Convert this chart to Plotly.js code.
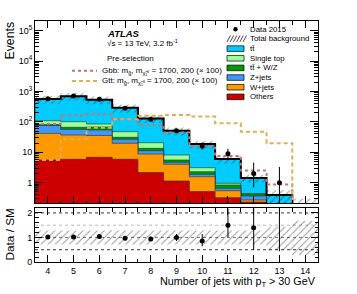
<!DOCTYPE html>
<html><head><meta charset="utf-8">
<script src="https://cdn.plot.ly/plotly-3.0.1.min.js"></script>
<style>html,body{margin:0;padding:0;background:#fff}#c{width:357px;height:294px}</style>
</head><body><div id="c"></div>
<script>
// ---- data ----
const bins = [4, 5, 6, 7, 8, 9, 10, 11, 12, 13, 14];
const ttbar     = [460, 595, 448, 242, 109, 43, 15.5, 5.05, 1.0, 0.28, 0.14];
const singleTop = [27, 35.2, 17, 16.5, 7.2, 2.57, 0.81, 0.115, 0.01, 0.01, 0.005];
const ttV       = [6, 9.4, 14, 4.3, 2.2, 0.89, 0.41, 0.186, 0.06, 0.02, 0.005];
const zjets     = [34, 20, 18.3, 7, 2.5, 0.66, 0.32, 0.108, 0.095, 0.05, 0.01];
const wjets     = [36.4, 31.1, 28.9, 13.9, 6.6, 2.89, 1.06, 0.225, 0.04, 0.01, 0.005];
const others    = [5.6, 5.9, 6.85, 5.9, 2.17, 1.14, 0.51, 0.32, 0.23, 0.02, 0.01];
const data        = [580, 711, 554, 280, 122, 51, 16, 9, 2, 1, null];
const dataErrUp   = [24, 27, 24, 17, 11, 7.2, 5.1, 4.1, 2.6, 2.3, null];
const dataErrDown = [24, 27, 24, 17, 11, 7.1, 4.0, 2.9, 1.3, 0.83, null];
const gbb = [85, 165, 178, 122, 79, 45, 16, 7.5, 2.5, 0.88, 0];
const gtt = [5.6, 26.8, 64, 122, 160, 170, 150, 90, 47, 20, 0];
const bandHi = [1.28, 1.28, 1.28, 1.28, 1.28, 1.28, 1.28, 1.28, 1.28, 1.44, 1.68];
const bandLo = [0.71, 0.71, 0.71, 0.71, 0.71, 0.71, 0.71, 0.71, 0.71, 0.48, 0.28];
const yTickVals = [1, 10, 100, 1000, 10000, 100000];
const yTickText = ['1', '10', '10<sup>2</sup>', '10<sup>3</sup>', '10<sup>4</sup>', '10<sup>5</sup>'];
const xTickVals = [4, 5, 6, 7, 8, 9, 10, 11, 12, 13, 14];

// ---- helpers ----
const FLOOR = 1e-3;
const FONT = 'Liberation Sans, Arial, sans-serif';
function step(vals) {
  const xs = [], ys = [];
  bins.forEach((b, i) => {
    const v = (vals[i] && vals[i] > 0) ? vals[i] : FLOOR;
    xs.push(b - 0.5, b + 0.5); ys.push(v, v);
  });
  return {xs, ys};
}
function cum(arrs) { return bins.map((_, i) => arrs.reduce((s, a) => s + a[i], 0)); }
const layers = [
  {v: others, c: '#cc0000'},
  {v: wjets, c: '#ff9900'},
  {v: zjets, c: '#3d99ff'},
  {v: ttV, c: '#009900'},
  {v: singleTop, c: '#99ff99'},
  {v: ttbar, c: '#00ccff'}
];
const total = cum(layers.map(l => l.v));
const traces = [];
// stacked fills, top layer first
for (let k = layers.length - 1; k >= 0; k--) {
  const c = cum(layers.slice(0, k + 1).map(l => l.v));
  const s = step(c);
  const lo = bins[0] - 0.5, hi = bins[bins.length - 1] + 0.5;
  traces.push({x: [lo, ...s.xs, hi], y: [FLOOR, ...s.ys, FLOOR], type: 'scatter', mode: 'lines',
    fill: 'toself', fillcolor: layers[k].c, line: {color: 'rgba(40,40,40,0.85)', width: 0.7},
    xaxis: 'x', yaxis: 'y', hoverinfo: 'skip'});
}
// background uncertainty hatch (main)
function band(up, dn, xa, ya) {
  const su = step(up), sd = step(dn);
  return {x: [...su.xs, ...sd.xs.slice().reverse()], y: [...su.ys, ...sd.ys.slice().reverse()],
    type: 'scatter', mode: 'lines', fill: 'toself', fillcolor: 'rgba(0,0,0,0)',
    fillpattern: {shape: '/', size: 5, solidity: 0.18, fgcolor: 'rgba(0,0,0,0.85)', bgcolor: 'rgba(0,0,0,0)', fillmode: 'overlay'},
    line: {width: 0, color: 'rgba(0,0,0,0)'}, xaxis: xa, yaxis: ya, hoverinfo: 'skip'};
}
traces.push(band(total.map((t, i) => t * bandHi[i]), total.map((t, i) => t * bandLo[i]), 'x', 'y'));
// total line
const st = step(total);
traces.push({x: st.xs, y: st.ys, type: 'scatter', mode: 'lines', line: {color: 'black', width: 2}, xaxis: 'x', yaxis: 'y'});
// signals
const sg = step(gbb);
traces.push({x: sg.xs, y: sg.ys, type: 'scatter', mode: 'lines', line: {color: '#cc7070', width: 2, dash: 'dot'}, xaxis: 'x', yaxis: 'y'});
const sgt = step(gtt);
traces.push({x: sgt.xs, y: sgt.ys, type: 'scatter', mode: 'lines', line: {color: '#e0b050', width: 2, dash: '4px,3px'}, xaxis: 'x', yaxis: 'y'});
// data
traces.push({x: bins, y: data, type: 'scatter', mode: 'markers', marker: {color: 'black', size: 5},
  error_y: {type: 'data', symmetric: false, array: dataErrUp, arrayminus: dataErrDown, width: 0, thickness: 1, color: 'black'},
  xaxis: 'x', yaxis: 'y'});
// ratio band
traces.push(band(bandHi, bandLo, 'x2', 'y2'));
const ratio = data.map((d, i) => d == null ? null : d / total[i]);
traces.push({x: bins, y: ratio, type: 'scatter', mode: 'markers', marker: {color: 'black', size: 5},
  error_y: {type: 'data', symmetric: false, array: dataErrUp.map((e, i) => e == null ? null : e / total[i]),
    arrayminus: dataErrDown.map((e, i) => e == null ? null : e / total[i]), width: 0, thickness: 1, color: 'black'},
  xaxis: 'x2', yaxis: 'y2'});

// ---- layout ----
const L = 35, T = 21, W = 283, H = 241;
const px = v => (v - L) / W, py = v => (T + H - v) / H;
const shapes = [];
[[0.5, 'black'], [1.5, '#aaaaaa'], [2, 'black'], [1, '#555555']].forEach(([v, c]) => shapes.push(
  {type: 'line', xref: 'x2 domain', x0: 0, x1: 1, yref: 'y2', y0: v, y1: v, line: {color: c, width: 0.8, dash: 'dot'}, layer: 'below'}));
// legend glyphs
const rows = [29.3, 38.95, 48.6, 58.25, 67.9, 77.55, 87.2, 96.85];
shapes.push({type: 'circle', xref: 'paper', yref: 'paper', x0: px(233.3), x1: px(237.7), y0: py(rows[0] + 2.2), y1: py(rows[0] - 2.2), fillcolor: 'black', line: {width: 0}});
for (let k = 0; k < 6; k++) {
  const x0 = 227 + k * 3.2;
  shapes.push({type: 'line', xref: 'paper', yref: 'paper', x0: px(x0), x1: px(x0 + 3.5), y0: py(rows[1] + 3), y1: py(rows[1] - 3.5), line: {color: 'black', width: 0.7}});
}
const legCols = ['#00ccff', '#99ff99', '#009900', '#3d99ff', '#ff9900', '#cc0000'];
legCols.forEach((c, k) => shapes.push({type: 'rect', xref: 'paper', yref: 'paper', x0: px(227), x1: px(244),
  y0: py(rows[k + 2] + 2.8), y1: py(rows[k + 2] - 2.8), fillcolor: c, line: {color: 'black', width: 0.7}}));
shapes.push({type: 'line', xref: 'paper', yref: 'paper', x0: px(72), x1: px(97), y0: py(70.7), y1: py(70.7), line: {color: '#cc7070', width: 2, dash: 'dot'}});
shapes.push({type: 'line', xref: 'paper', yref: 'paper', x0: px(72), x1: px(97), y0: py(81), y1: py(81), line: {color: '#e0b050', width: 2, dash: '4px,3px'}});

const legTxt = ['Data 2015', 'Total background', 'tt\u0304', 'Single top', 'tt\u0304 + W/Z', 'Z+jets', 'W+jets', 'Others'];
const ann = legTxt.map((t, k) => ({text: t, xref: 'paper', yref: 'paper', x: px(248), y: py(rows[k]), xanchor: 'left', yanchor: 'middle', showarrow: false, font: {family: FONT, size: 7.8, color: 'black'}}));
const A = (t, x, y, o) => Object.assign({text: t, xref: 'paper', yref: 'paper', x: px(x), y: py(y), xanchor: 'left', yanchor: 'middle', showarrow: false, font: {family: FONT, size: 8, color: 'black'}}, o || {});
ann.push(A('<b><i>ATLAS</i></b>', 105, 33.3, {font: {family: FONT, size: 9.5, color: 'black'}}));
ann.push(A('\u221As = 13 TeV, 3.2 fb<sup>-1</sup>', 105, 42.7));
ann.push(A('Pre-selection', 105, 58.5));
ann.push(A('Gbb: m<sub>g\u0303</sub>, m<sub>\u03C7\u0303\u2081\u2070</sub> = 1700, 200 (\u00D7 100)', 100, 70.7));
ann.push(A('Gtt: m<sub>g\u0303</sub>, m<sub>\u03C7\u0303\u2081\u2070</sub> = 1700, 200 (\u00D7 100)', 100, 81));
ann.push(A('Events', 9, 19.5, {textangle: -90, xanchor: 'center', yanchor: 'top', font: {family: FONT, size: 12.3, color: 'black'}}));
ann.push(A('Data / SM', 9, 234.5, {textangle: -90, xanchor: 'center', yanchor: 'middle', font: {family: FONT, size: 11.8, color: 'black'}}));
ann.push(A('Number of jets with p<sub>T</sub> > 30 GeV', 317.5, 282, {xanchor: 'right', font: {family: FONT, size: 10.8, color: 'black'}}));

const axCommon = {showline: true, linecolor: 'black', linewidth: 1, mirror: 'ticks', ticks: 'inside', tickcolor: 'black', showgrid: false, zeroline: false,
  tickfont: {family: FONT, size: 9, color: 'black'}};
const layout = {
  width: 357, height: 294, margin: {l: L, r: 357 - L - W, t: T, b: 294 - T - H},
  paper_bgcolor: 'white', plot_bgcolor: 'white', showlegend: false, hovermode: false,
  xaxis: Object.assign({}, axCommon, {domain: [0, 1], anchor: 'y', range: [3.5, 14.5], tickvals: xTickVals, showticklabels: false, ticklen: 7,
    minor: {dtick: 0.5, tick0: 3.5, ticks: 'inside', ticklen: 3.5, tickcolor: 'black'}}),
  yaxis: Object.assign({}, axCommon, {domain: [(262 - 203) / H, 1], anchor: 'x', type: 'log', range: [-0.668, 5.319], tickvals: yTickVals, ticktext: yTickText, ticklen: 8,
    minor: {ticks: 'inside', ticklen: 4, tickcolor: 'black', dtick: 'D1'}}),
  xaxis2: Object.assign({}, axCommon, {domain: [0, 1], anchor: 'y2', range: [3.5, 14.5], tickvals: xTickVals, ticklen: 7,
    minor: {dtick: 0.5, tick0: 3.5, ticks: 'inside', ticklen: 3.5, tickcolor: 'black'}}),
  yaxis2: Object.assign({}, axCommon, {domain: [0, 54 / H], anchor: 'x2', range: [0, 2.2], tickvals: [0, 1, 2], ticklen: 7,
    minor: {dtick: 0.2, ticks: 'inside', ticklen: 3.5, tickcolor: 'black'}}),
  shapes: shapes, annotations: ann
};
Plotly.newPlot('c', traces, layout, {staticPlot: true, displayModeBar: false});
</script></body></html>
